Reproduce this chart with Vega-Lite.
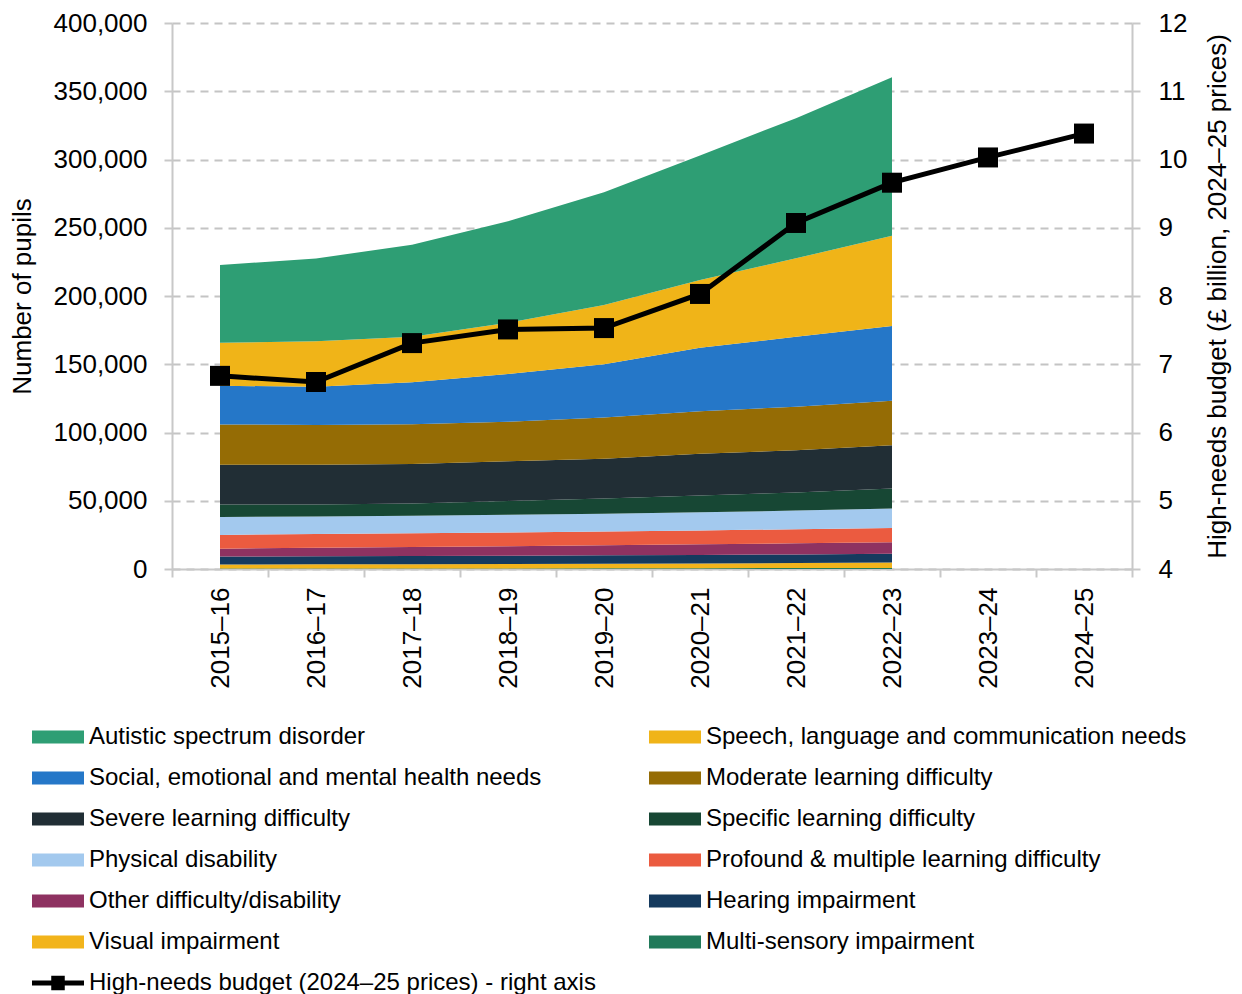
{
  "$schema": "https://vega.github.io/schema/vega-lite/v6.json",
  "width": 960,
  "height": 546,
  "autosize": {"type": "none"},
  "padding": {"left": 172, "top": 23, "right": 110, "bottom": 425},
  "background": "white",
  "config": {
    "view": {"stroke": null},
    "font": "Liberation Sans",
    "axis": {
      "domainColor": "#c8c8c8", "domainWidth": 2,
      "tickColor": "#c8c8c8", "tickWidth": 2, "tickSize": 8,
      "labelFont": "Liberation Sans", "labelFontSize": 26, "labelColor": "#000000",
      "titleFont": "Liberation Sans", "titleFontSize": 26, "titleFontWeight": "normal", "titleColor": "#000000",
      "gridColor": "#c4c4c4", "gridDash": [8, 6], "gridWidth": 2
    }
  },
  "datasets": {
    "needs": [
      {"year": "2015–16", "need": "Multi-sensory impairment", "pupils": 300},
      {"year": "2016–17", "need": "Multi-sensory impairment", "pupils": 350},
      {"year": "2017–18", "need": "Multi-sensory impairment", "pupils": 400},
      {"year": "2018–19", "need": "Multi-sensory impairment", "pupils": 450},
      {"year": "2019–20", "need": "Multi-sensory impairment", "pupils": 500},
      {"year": "2020–21", "need": "Multi-sensory impairment", "pupils": 600},
      {"year": "2021–22", "need": "Multi-sensory impairment", "pupils": 700},
      {"year": "2022–23", "need": "Multi-sensory impairment", "pupils": 800},
      {"year": "2015–16", "need": "Visual impairment", "pupils": 3000},
      {"year": "2016–17", "need": "Visual impairment", "pupils": 3050},
      {"year": "2017–18", "need": "Visual impairment", "pupils": 3100},
      {"year": "2018–19", "need": "Visual impairment", "pupils": 3250},
      {"year": "2019–20", "need": "Visual impairment", "pupils": 3400},
      {"year": "2020–21", "need": "Visual impairment", "pupils": 3500},
      {"year": "2021–22", "need": "Visual impairment", "pupils": 3700},
      {"year": "2022–23", "need": "Visual impairment", "pupils": 3950},
      {"year": "2015–16", "need": "Hearing impairment", "pupils": 5900},
      {"year": "2016–17", "need": "Hearing impairment", "pupils": 5900},
      {"year": "2017–18", "need": "Hearing impairment", "pupils": 6000},
      {"year": "2018–19", "need": "Hearing impairment", "pupils": 6000},
      {"year": "2019–20", "need": "Hearing impairment", "pupils": 6100},
      {"year": "2020–21", "need": "Hearing impairment", "pupils": 6200},
      {"year": "2021–22", "need": "Hearing impairment", "pupils": 6300},
      {"year": "2022–23", "need": "Hearing impairment", "pupils": 6450},
      {"year": "2015–16", "need": "Other difficulty/disability", "pupils": 5650},
      {"year": "2016–17", "need": "Other difficulty/disability", "pupils": 6300},
      {"year": "2017–18", "need": "Other difficulty/disability", "pupils": 6600},
      {"year": "2018–19", "need": "Other difficulty/disability", "pupils": 6900},
      {"year": "2019–20", "need": "Other difficulty/disability", "pupils": 7400},
      {"year": "2020–21", "need": "Other difficulty/disability", "pupils": 7800},
      {"year": "2021–22", "need": "Other difficulty/disability", "pupils": 8100},
      {"year": "2022–23", "need": "Other difficulty/disability", "pupils": 8350},
      {"year": "2015–16", "need": "Profound & multiple learning difficulty", "pupils": 10100},
      {"year": "2016–17", "need": "Profound & multiple learning difficulty", "pupils": 10100},
      {"year": "2017–18", "need": "Profound & multiple learning difficulty", "pupils": 10100},
      {"year": "2018–19", "need": "Profound & multiple learning difficulty", "pupils": 10100},
      {"year": "2019–20", "need": "Profound & multiple learning difficulty", "pupils": 10100},
      {"year": "2020–21", "need": "Profound & multiple learning difficulty", "pupils": 10100},
      {"year": "2021–22", "need": "Profound & multiple learning difficulty", "pupils": 10400},
      {"year": "2022–23", "need": "Profound & multiple learning difficulty", "pupils": 10400},
      {"year": "2015–16", "need": "Physical disability", "pupils": 13100},
      {"year": "2016–17", "need": "Physical disability", "pupils": 12800},
      {"year": "2017–18", "need": "Physical disability", "pupils": 12800},
      {"year": "2018–19", "need": "Physical disability", "pupils": 13100},
      {"year": "2019–20", "need": "Physical disability", "pupils": 13000},
      {"year": "2020–21", "need": "Physical disability", "pupils": 13300},
      {"year": "2021–22", "need": "Physical disability", "pupils": 13600},
      {"year": "2022–23", "need": "Physical disability", "pupils": 14300},
      {"year": "2015–16", "need": "Specific learning difficulty", "pupils": 9200},
      {"year": "2016–17", "need": "Specific learning difficulty", "pupils": 8800},
      {"year": "2017–18", "need": "Specific learning difficulty", "pupils": 8900},
      {"year": "2018–19", "need": "Specific learning difficulty", "pupils": 10100},
      {"year": "2019–20", "need": "Specific learning difficulty", "pupils": 11150},
      {"year": "2020–21", "need": "Specific learning difficulty", "pupils": 12350},
      {"year": "2021–22", "need": "Specific learning difficulty", "pupils": 13200},
      {"year": "2022–23", "need": "Specific learning difficulty", "pupils": 14800},
      {"year": "2015–16", "need": "Severe learning difficulty", "pupils": 29100},
      {"year": "2016–17", "need": "Severe learning difficulty", "pupils": 29100},
      {"year": "2017–18", "need": "Severe learning difficulty", "pupils": 29000},
      {"year": "2018–19", "need": "Severe learning difficulty", "pupils": 29000},
      {"year": "2019–20", "need": "Severe learning difficulty", "pupils": 29150},
      {"year": "2020–21", "need": "Severe learning difficulty", "pupils": 30650},
      {"year": "2021–22", "need": "Severe learning difficulty", "pupils": 31000},
      {"year": "2022–23", "need": "Severe learning difficulty", "pupils": 31550},
      {"year": "2015–16", "need": "Moderate learning difficulty", "pupils": 29600},
      {"year": "2016–17", "need": "Moderate learning difficulty", "pupils": 29100},
      {"year": "2017–18", "need": "Moderate learning difficulty", "pupils": 29100},
      {"year": "2018–19", "need": "Moderate learning difficulty", "pupils": 29000},
      {"year": "2019–20", "need": "Moderate learning difficulty", "pupils": 30100},
      {"year": "2020–21", "need": "Moderate learning difficulty", "pupils": 31000},
      {"year": "2021–22", "need": "Moderate learning difficulty", "pupils": 31900},
      {"year": "2022–23", "need": "Moderate learning difficulty", "pupils": 32700},
      {"year": "2015–16", "need": "Social, emotional and mental health needs", "pupils": 28300},
      {"year": "2016–17", "need": "Social, emotional and mental health needs", "pupils": 28000},
      {"year": "2017–18", "need": "Social, emotional and mental health needs", "pupils": 30800},
      {"year": "2018–19", "need": "Social, emotional and mental health needs", "pupils": 35000},
      {"year": "2019–20", "need": "Social, emotional and mental health needs", "pupils": 39100},
      {"year": "2020–21", "need": "Social, emotional and mental health needs", "pupils": 46500},
      {"year": "2021–22", "need": "Social, emotional and mental health needs", "pupils": 51300},
      {"year": "2022–23", "need": "Social, emotional and mental health needs", "pupils": 54700},
      {"year": "2015–16", "need": "Speech, language and communication needs", "pupils": 31500},
      {"year": "2016–17", "need": "Speech, language and communication needs", "pupils": 33300},
      {"year": "2017–18", "need": "Speech, language and communication needs", "pupils": 33400},
      {"year": "2018–19", "need": "Speech, language and communication needs", "pupils": 37500},
      {"year": "2019–20", "need": "Speech, language and communication needs", "pupils": 43400},
      {"year": "2020–21", "need": "Speech, language and communication needs", "pupils": 49700},
      {"year": "2021–22", "need": "Speech, language and communication needs", "pupils": 57400},
      {"year": "2022–23", "need": "Speech, language and communication needs", "pupils": 66200},
      {"year": "2015–16", "need": "Autistic spectrum disorder", "pupils": 56900},
      {"year": "2016–17", "need": "Autistic spectrum disorder", "pupils": 60700},
      {"year": "2017–18", "need": "Autistic spectrum disorder", "pupils": 67300},
      {"year": "2018–19", "need": "Autistic spectrum disorder", "pupils": 74300},
      {"year": "2019–20", "need": "Autistic spectrum disorder", "pupils": 82600},
      {"year": "2020–21", "need": "Autistic spectrum disorder", "pupils": 91300},
      {"year": "2021–22", "need": "Autistic spectrum disorder", "pupils": 102700},
      {"year": "2022–23", "need": "Autistic spectrum disorder", "pupils": 116100}
    ],
    "budget": [
      {"year": "2015–16", "budget": 6.83},
      {"year": "2016–17", "budget": 6.74},
      {"year": "2017–18", "budget": 7.31},
      {"year": "2018–19", "budget": 7.51},
      {"year": "2019–20", "budget": 7.53},
      {"year": "2020–21", "budget": 8.03},
      {"year": "2021–22", "budget": 9.07},
      {"year": "2022–23", "budget": 9.66},
      {"year": "2023–24", "budget": 10.03},
      {"year": "2024–25", "budget": 10.38}
    ]
  },
  "layer": [
    {
      "data": {"name": "needs"},
      "transform": [
        {"calculate": "indexof(['Autistic spectrum disorder','Speech, language and communication needs','Social, emotional and mental health needs','Moderate learning difficulty','Severe learning difficulty','Specific learning difficulty','Physical disability','Profound & multiple learning difficulty','Other difficulty/disability','Hearing impairment','Visual impairment','Multi-sensory impairment'], datum.need)", "as": "rank"}
      ],
      "mark": {"type": "area", "opacity": 1},
      "encoding": {
        "x": {
          "field": "year", "type": "ordinal", "bandPosition": 0.5,
          "scale": {"type": "band", "paddingInner": 0, "paddingOuter": 0,
            "domain": ["2015–16","2016–17","2017–18","2018–19","2019–20","2020–21","2021–22","2022–23","2023–24","2024–25"]},
          "axis": {"title": null, "labelAngle": -90, "labelPadding": 10, "tickBand": "extent", "grid": false, "labelFontSize": 26}
        },
        "y": {
          "field": "pupils", "type": "quantitative", "stack": "zero",
          "scale": {"domain": [0, 400000], "nice": false},
          "axis": {"title": "Number of pupils", "values": [0,50000,100000,150000,200000,250000,300000,350000,400000], "labelExpr": "format(datum.value, ',')", "grid": true, "labelPadding": 17, "titlePadding": 18}
        },
        "color": {
          "field": "need", "type": "nominal",
          "scale": {
            "domain": ["Autistic spectrum disorder","Speech, language and communication needs","Social, emotional and mental health needs","Moderate learning difficulty","Severe learning difficulty","Specific learning difficulty","Physical disability","Profound & multiple learning difficulty","Other difficulty/disability","Hearing impairment","Visual impairment","Multi-sensory impairment","High-needs budget (2024–25 prices) - right axis"],
            "range": ["#2e9e74","#f0b418","#2577c8","#956c05","#212e35","#174734","#a3c9ee","#eb5b40","#8e3261","#153a5e","#f2b41b","#217a5a","#000000"]
          },
          "legend": {
            "orient": "none", "legendX": -140, "legendY": 688, "columns": 2, "direction": "horizontal", "title": null,
            "labelFont": "Liberation Sans", "labelFontSize": 24, "labelColor": "#000000", "labelLimit": 1000,
            "symbolSize": 2704, "symbolStrokeWidth": 0, "symbolOpacity": 1,
            "symbolType": {"expr": "datum.value === 'High-needs budget (2024–25 prices) - right axis' ? 'M-1,-0.1H1V0.1H-1Z M-0.26,-0.28H0.26V0.28H-0.26Z' : 'M-1,-0.25H1V0.25H-1Z'"},
            "rowPadding": 3, "columnPadding": 53, "labelOffset": 5, "padding": 0
          }
        },
        "order": {"field": "rank", "type": "quantitative", "sort": "descending"}
      }
    },
    {
      "data": {"name": "budget"},
      "mark": {"type": "line", "strokeWidth": 5, "point": {"shape": "square", "size": 400, "filled": true, "opacity": 1}},
      "encoding": {
        "x": {"field": "year", "type": "ordinal", "bandPosition": 0.5},
        "y": {
          "field": "budget", "type": "quantitative",
          "scale": {"domain": [4, 12], "nice": false},
          "axis": {"orient": "right", "title": "High-needs budget (£ billion, 2024–25 prices)", "values": [4,5,6,7,8,9,10,11,12], "grid": false, "labelPadding": 18, "titleAngle": -90, "titleBaseline": "top", "titlePadding": 18}
        },
        "color": {
          "datum": "High-needs budget (2024–25 prices) - right axis", "type": "nominal",
          "scale": {
            "domain": ["Autistic spectrum disorder","Speech, language and communication needs","Social, emotional and mental health needs","Moderate learning difficulty","Severe learning difficulty","Specific learning difficulty","Physical disability","Profound & multiple learning difficulty","Other difficulty/disability","Hearing impairment","Visual impairment","Multi-sensory impairment","High-needs budget (2024–25 prices) - right axis"],
            "range": ["#2e9e74","#f0b418","#2577c8","#956c05","#212e35","#174734","#a3c9ee","#eb5b40","#8e3261","#153a5e","#f2b41b","#217a5a","#000000"]
          }
        }
      }
    }
  ],
  "resolve": {"scale": {"y": "independent"}}
}
